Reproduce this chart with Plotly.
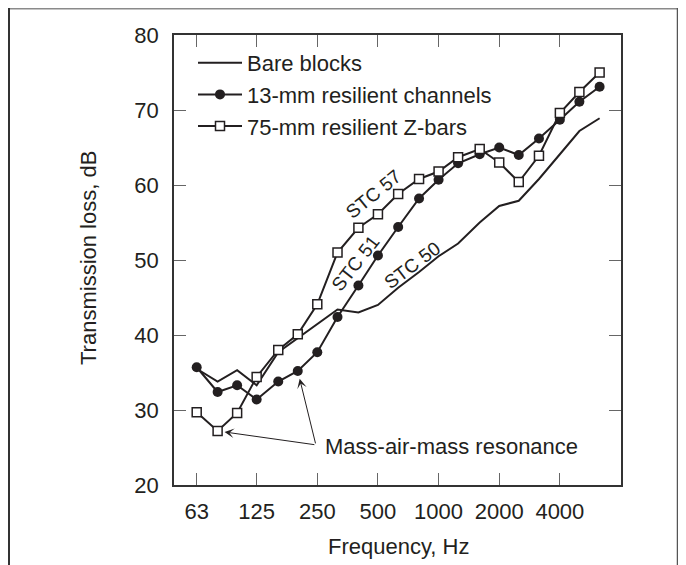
import math
import plotly.graph_objects as go

# ---- data ----
freqs = [63, 80, 100, 125, 160, 200, 250, 315, 400, 500, 630, 800, 1000,
         1250, 1600, 2000, 2500, 3150, 4000, 5000, 6300]
bare_blocks = [35.5, 33.8, 35.3, 33.3, 37.7, 39.6, 41.5, 43.4, 43.0, 44.0, 46.3,
               48.4, 50.5, 52.2, 55.0, 57.2, 57.9, 60.8, 64.1, 67.2, 68.9]
channels_13mm = [35.7, 32.4, 33.3, 31.4, 33.8, 35.2, 37.7, 42.4, 46.6, 50.6, 54.4,
                 58.2, 60.7, 62.9, 64.1, 65.0, 64.0, 66.2, 68.7, 71.1, 73.1]
zbars_75mm = [29.7, 27.2, 29.6, 34.4, 38.0, 40.1, 44.1, 51.0, 54.3, 56.1, 58.8,
              60.8, 61.8, 63.7, 64.8, 63.0, 60.4, 63.9, 69.6, 72.4, 75.0]
tick_vals = [63, 125, 250, 500, 1000, 2000, 4000]
tick_text = ["63", "125", "250", "500", "1000", "2000", "4000"]
series_names = ["Bare blocks", "13-mm resilient channels", "75-mm resilient Z-bars"]
stc_labels = [("STC 57", 472, 58.8, -39), ("STC 51", 385, 49.6, -52), ("STC 50", 737, 49.3, -37)]

# ---- style ----
INK = "#231f20"
FONT = "Liberation Sans, Arial, Helvetica, sans-serif"
FS = 22
OFF = 8  # page body margin of the html document
W, H = 686 - OFF, 565 - OFF
ML, MR, MT, MB = 174 - OFF, 65, 35 - OFF, 80
PW, PH = W - ML - MR, H - MT - MB


def px_x(p):
    """reference-image pixel x -> paper fraction"""
    return (p - OFF - ML) / PW


def px_y(p):
    """reference-image pixel y -> paper fraction"""
    return (H - MB - (p - OFF)) / PH


fig = go.Figure()
fig.add_trace(go.Scatter(x=freqs, y=bare_blocks, mode="lines", name=series_names[0],
                         line=dict(color=INK, width=2)))
fig.add_trace(go.Scatter(x=freqs, y=channels_13mm, mode="lines+markers", name=series_names[1],
                         line=dict(color=INK, width=2),
                         marker=dict(symbol="circle", size=10, color=INK)))
fig.add_trace(go.Scatter(x=freqs, y=zbars_75mm, mode="lines+markers", name=series_names[2],
                         line=dict(color=INK, width=2),
                         marker=dict(symbol="square", size=9, color="white",
                                     line=dict(color=INK, width=1.5))))

annotations = []
for txt, fx, fy, ang in stc_labels:
    annotations.append(dict(x=math.log10(fx), y=fy, xref="x", yref="y", text=txt,
                            showarrow=False, textangle=ang,
                            font=dict(family=FONT, size=19, color=INK)))

tail_x, tail_y = math.log10(246), 25.35
annotations.append(dict(x=math.log10(80), y=zbars_75mm[1], xref="x", yref="y",
                        ax=tail_x, ay=tail_y, axref="x", ayref="y", text="",
                        showarrow=True, arrowhead=3, arrowsize=1.6, arrowwidth=1,
                        arrowcolor=INK, standoff=7))
annotations.append(dict(x=math.log10(200), y=channels_13mm[5], xref="x", yref="y",
                        ax=tail_x, ay=tail_y, axref="x", ayref="y", text="",
                        showarrow=True, arrowhead=3, arrowsize=1.6, arrowwidth=1,
                        arrowcolor=INK, standoff=8))
annotations.append(dict(x=math.log10(268), y=25.2, xref="x", yref="y",
                        text="Mass-air-mass resonance", showarrow=False, xanchor="left",
                        font=dict(family=FONT, size=FS, color=INK)))
# axis titles
annotations.append(dict(x=px_x(398), y=px_y(546), xref="paper", yref="paper",
                        text="Frequency, Hz", showarrow=False, xanchor="center", yanchor="middle",
                        font=dict(family=FONT, size=FS, color=INK)))
annotations.append(dict(x=px_x(88), y=px_y(258), xref="paper", yref="paper",
                        text="Transmission loss, dB", showarrow=False, textangle=-90,
                        xanchor="center", yanchor="middle",
                        font=dict(family=FONT, size=FS, color=INK)))

shapes = [
    dict(type="line", xref="paper", yref="paper", x0=px_x(8.5), x1=px_x(678), y0=px_y(8.6), y1=px_y(8.6),
         line=dict(color="#8a8a8a", width=2)),
    dict(type="line", xref="paper", yref="paper", x0=px_x(9), x1=px_x(9), y0=px_y(8), y1=px_y(565),
         line=dict(color="#333333", width=2)),
    dict(type="line", xref="paper", yref="paper", x0=px_x(677.5), x1=px_x(677.5), y0=px_y(8), y1=px_y(565),
         line=dict(color="#555555", width=1.5)),
]

axis_common = dict(showgrid=False, zeroline=False, showline=True, linecolor="#333333", linewidth=1.5,
                   mirror="ticks", ticks="inside", ticklen=12, tickwidth=1.2, tickcolor="#666666",
                   automargin=False,
                   tickfont=dict(family=FONT, size=FS, color=INK))

fig.update_layout(
    template="none",
    width=W, height=H,
    margin=dict(l=ML, r=MR, t=MT, b=MB, pad=0),
    paper_bgcolor="white", plot_bgcolor="white",
    font=dict(family=FONT, size=FS, color=INK),
    showlegend=True,
    legend=dict(x=px_x(193), y=px_y(42), xanchor="left", yanchor="top",
                bgcolor="rgba(0,0,0,0)", borderwidth=0, font=dict(family=FONT, size=FS, color=INK),
                tracegroupgap=0, traceorder="normal", itemwidth=44),
    xaxis=dict(type="log", range=[math.log10(48.6), math.log10(8045)],
               tickvals=tick_vals, ticktext=tick_text, ticklabelstandoff=6,
               **axis_common),
    yaxis=dict(range=[20, 80], dtick=10, tick0=20, ticklabelstandoff=9,
               **axis_common),
    annotations=annotations,
    shapes=shapes,
)

fig.write_html("out.html")
